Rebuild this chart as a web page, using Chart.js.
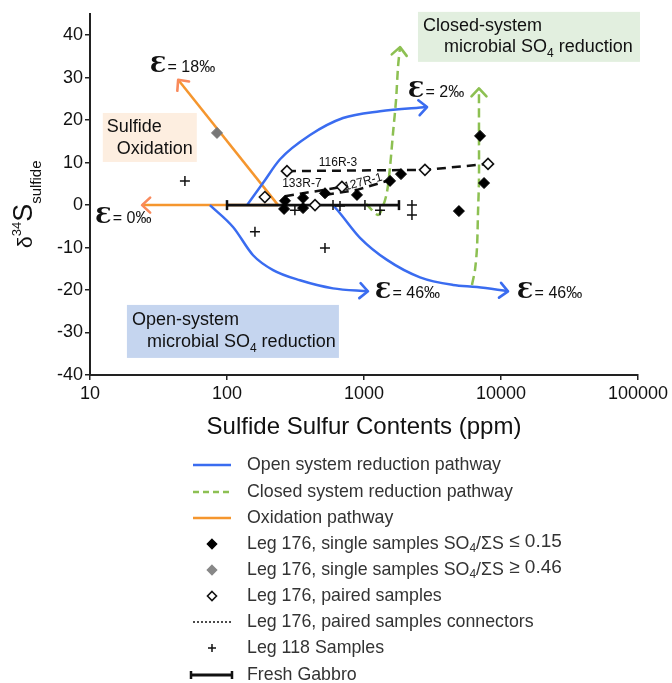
<!DOCTYPE html>
<html><head><meta charset="utf-8">
<script src="https://cdn.jsdelivr.net/npm/chart.js@4.4.0/dist/chart.umd.min.js"></script>
<style>html,body{margin:0;padding:0;background:#fff;}#wrap{width:672px;height:683px;position:relative;}</style>
</head><body><div id="wrap"><canvas id="c" width="672" height="683"></canvas></div>
<script>
// ---------------- data ----------------
const xTickValues = [10, 100, 1000, 10000, 100000];
const yTickValues = [-40, -30, -20, -10, 0, 10, 20, 30, 40];

const openUpperX = [140, 183, 244, 404, 703, 1309, 2884];
const openUpperY = [0, 5.2, 10.8, 16.5, 20.5, 22.1, 23.1];
const openLowerLeftX = [75, 111, 155, 217, 341, 594, 1069];
const openLowerLeftY = [0, -5.2, -11.8, -15.3, -17.7, -19.6, -20.3];
const openLowerRightX = [594, 668, 935, 1472, 2564, 4467, 6683, 11250];
const openLowerRightY = [0, -1.9, -7.7, -12.9, -17.0, -18.8, -19.3, -20.3];

const closedLeftX = [1035, 1265, 1377, 1472, 1549, 1629, 1713, 1771, 1832];
const closedLeftY = [0.3, -2.3, -0.2, 3.1, 9.0, 17.0, 24.7, 32.5, 37.2];
const closedRightX = [6138, 6457, 6683, 6792, 6905, 6905, 6905];
const closedRightY = [-18.8, -15.3, -9.9, -1.9, 5.9, 16.9, 27.5];

const oxidationUpX = [236, 44];
const oxidationUpY = [0, 29.5];
const oxidationFlatX = [236, 24];
const oxidationFlatY = [0, 0];

const singleLowX = [265, 261, 359, 359, 519, 889, 1549, 1862, 7030, 7520, 4930];
const singleLowY = [1.0, -0.9, 1.7, -0.7, 2.8, 2.4, 5.7, 7.3, 16.3, 5.2, -1.4];
const singleHighX = [84.5];
const singleHighY = [17.0];
const pairedX = [274, 189, 439, 690, 2786, 8040];
const pairedY = [8.0, 1.9, 0, 4.3, 8.3, 9.7];

const conn116X = [274, 2786, 8040];
const conn116Y = [8.0, 8.3, 9.7];
const conn133X = [265, 359, 519, 690];
const conn133Y = [2.1, 2.8, 3.6, 4.3];
const conn127X = [519, 889, 1549];
const conn127Y = [2.4, 3.6, 5.9];

const leg118X = [49.3, 160, 519, 313, 594, 668, 1016, 1309, 2239, 2239];
const leg118Y = [5.7, -6.3, -10.1, -1.2, 0, -0.2, 0, -1.2, 0, -2.3];

const gabbroX = [100, 1800];
const gabbroY = [0, 0];

// label anchors (data coordinates)
const epsLabels = [
  {x: 27.4, y: 31.3, t: '= 18‰'},
  {x: 2094, y: 25.4, t: '= 2‰'},
  {x: 1202, y: -21.9, t: '= 46‰'},
  {x: 13090, y: -21.9, t: '= 46‰'},
  {x: 10.9, y: -4.2, t: '= 0‰'}
];
const sampleLabels = [
  {x: 646, y: 10.1, t: '116R-3', rot: 0},
  {x: 352, y: 5.0, t: '133R-7', rot: 0},
  {x: 984, y: 5.4, t: '127R-1', rot: -15}
];

// ---------------- styles ----------------
const FONT = "'Liberation Sans', Arial, Helvetica, sans-serif";
const BLUE = '#3a6cf0', GREEN = '#8dc052', ORANGE = '#f5962e', SALMON = '#f98a5c';
const pts = (xs, ys) => xs.map((x, i) => ({x: x, y: ys[i]}));

function lineDs(label, xs, ys, color, opts) {
  return Object.assign({
    label: label, data: pts(xs, ys), showLine: true, borderColor: color, backgroundColor: color,
    borderWidth: 2.5, pointRadius: 0, pointHoverRadius: 0, tension: 0.3, fill: false
  }, opts || {});
}

const datasets = [
  {label: 'Leg 176, paired samples', data: pts(pairedX, pairedY), pointStyle: 'rectRot', pointRadius: 5.5,
   backgroundColor: '#fff', borderColor: '#111', borderWidth: 1.6, order: 0},
  {label: 'single high', data: pts(singleHighX, singleHighY), pointStyle: 'rectRot', pointRadius: 5.5,
   backgroundColor: '#777', borderColor: '#777', borderWidth: 1, order: 1},
  {label: 'single low', data: pts(singleLowX, singleLowY), pointStyle: 'rectRot', pointRadius: 5.5,
   backgroundColor: '#000', borderColor: '#000', borderWidth: 1, order: 1},
  {label: 'Leg 118', data: pts(leg118X, leg118Y), pointStyle: 'cross', pointRadius: 5,
   backgroundColor: '#111', borderColor: '#111', borderWidth: 1.5, order: 2},
  lineDs('conn116', conn116X, conn116Y, '#111', {borderDash: [9, 6], tension: 0, order: 3}),
  lineDs('conn133', conn133X, conn133Y, '#111', {borderDash: [9, 6], tension: 0, order: 3}),
  lineDs('conn127', conn127X, conn127Y, '#111', {borderDash: [9, 6], tension: 0, order: 3}),
  lineDs('gabbro', gabbroX, gabbroY, '#111', {tension: 0, borderWidth: 2.8, pointStyle: 'line', pointRotation: 90,
   pointRadius: 5, pointBorderWidth: 2.5, pointBorderColor: '#111', order: 4}),
  lineDs('closedL', closedLeftX, closedLeftY, GREEN, {borderDash: [9, 5], arrow: GREEN, order: 5}),
  lineDs('closedR', closedRightX, closedRightY, GREEN, {borderDash: [9, 5], arrow: GREEN, order: 5}),
  lineDs('openU', openUpperX, openUpperY, BLUE, {arrow: BLUE, cubicInterpolationMode: 'monotone', order: 6}),
  lineDs('openLL', openLowerLeftX, openLowerLeftY, BLUE, {arrow: BLUE, cubicInterpolationMode: 'monotone', order: 6}),
  lineDs('openLR', openLowerRightX, openLowerRightY, BLUE, {arrow: BLUE, cubicInterpolationMode: 'monotone', order: 6}),
  lineDs('oxUp', oxidationUpX, oxidationUpY, ORANGE, {tension: 0, arrow: SALMON, order: 7}),
  lineDs('oxFlat', oxidationFlatX, oxidationFlatY, ORANGE, {tension: 0, arrow: SALMON, order: 7})
];

// ---------------- helpers ----------------
function chevron(ctx, tx, ty, fx, fy, color) {
  const ang = Math.atan2(ty - fy, tx - fx), len = 11, ha = 0.75;
  ctx.save();
  ctx.strokeStyle = color; ctx.lineWidth = 2.6; ctx.setLineDash([]); ctx.lineCap = 'round'; ctx.lineJoin = 'round';
  ctx.beginPath();
  ctx.moveTo(tx - len * Math.cos(ang - ha), ty - len * Math.sin(ang - ha));
  ctx.lineTo(tx, ty);
  ctx.lineTo(tx - len * Math.cos(ang + ha), ty - len * Math.sin(ang + ha));
  ctx.stroke();
  ctx.restore();
}
function rich(ctx, x, y, segs) {
  let cx = x;
  segs.forEach(s => {
    ctx.font = s.f;
    ctx.fillText(s.t, cx, y + (s.dy || 0));
    cx += ctx.measureText(s.t).width;
  });
}

const arrowPlugin = {
  id: 'arrows',
  afterDatasetsDraw(chart) {
    const ctx = chart.ctx;
    chart.data.datasets.forEach((ds, i) => {
      if (!ds.arrow) return;
      const pts = chart.getDatasetMeta(i).data;
      const a = pts[pts.length - 2], b = pts[pts.length - 1];
      chevron(ctx, b.x, b.y, a.x, a.y, ds.arrow);
    });
  }
};

const annotationPlugin = {
  id: 'annot',
  afterDraw(chart) {
    const ctx = chart.ctx, xs = chart.scales.x, ys = chart.scales.y, ca = chart.chartArea;
    const X = v => xs.getPixelForValue(v), Y = v => ys.getPixelForValue(v);
    ctx.save();
    ctx.textBaseline = 'alphabetic';
    const f18 = '18px ' + FONT, f12 = '12px ' + FONT;
    function box(vx, vy, w, h, col, lines) {
      const px = X(vx), py = Y(vy);
      ctx.fillStyle = col; ctx.fillRect(px, py, w, h);
      ctx.fillStyle = '#111';
      lines.forEach(l => rich(ctx, px + l.dx, py + l.dy, l.segs));
    }
    box(12.4, 21.7, 94, 49, '#fdeee0', [
      {dx: 4, dy: 19, segs: [{t: 'Sulfide', f: f18}]},
      {dx: 14, dy: 41, segs: [{t: 'Oxidation', f: f18}]}
    ]);
    box(2477, 45.5, 222, 50, '#e2efdf', [
      {dx: 5, dy: 19, segs: [{t: 'Closed-system', f: f18}]},
      {dx: 26, dy: 40, segs: [{t: 'microbial SO', f: f18}, {t: '4', f: f12, dy: 5}, {t: ' reduction', f: f18}]}
    ]);
    box(18.6, -23.5, 212, 53, '#c5d5ef', [
      {dx: 5, dy: 20, segs: [{t: 'Open-system', f: f18}]},
      {dx: 20, dy: 42, segs: [{t: 'microbial SO', f: f18}, {t: '4', f: f12, dy: 5}, {t: ' reduction', f: f18}]}
    ]);
    // epsilon labels
    ctx.fillStyle = '#111';
    epsLabels.forEach(l => {
      const px = X(l.x), py = Y(l.y);
      ctx.font = "bold 23px 'DejaVu Serif', 'Liberation Serif', serif";
      ctx.fillText('Ɛ', px, py);
      const w = ctx.measureText('Ɛ').width;
      ctx.font = '16px ' + FONT;
      ctx.fillText(l.t, px + w + 1, py);
    });
    // sample labels
    ctx.font = '12px ' + FONT; ctx.textAlign = 'center'; ctx.textBaseline = 'middle';
    sampleLabels.forEach(l => {
      ctx.save(); ctx.translate(X(l.x), Y(l.y)); ctx.rotate(l.rot * Math.PI / 180);
      ctx.fillText(l.t, 0, 0); ctx.restore();
    });
    // axis titles
    ctx.textAlign = 'center'; ctx.textBaseline = 'alphabetic';
    ctx.font = '24px ' + FONT; ctx.fillStyle = '#111';
    ctx.fillText('Sulfide Sulfur Contents (ppm)', (ca.left + ca.right) / 2, 434);
    ctx.textAlign = 'left';
    ctx.save(); ctx.translate(32, 248); ctx.rotate(-Math.PI / 2);
    rich(ctx, 0, 0, [
      {t: 'δ', f: '21px ' + FONT}, {t: '34', f: '13px ' + FONT, dy: -11},
      {t: 'S', f: '27px ' + FONT}, {t: 'sulfide', f: '15px ' + FONT, dy: 9}
    ]);
    ctx.restore();
    // legend
    const rows = [465, 492, 518, 544, 570, 596, 622, 648, 675];
    const tx = 247, sx0 = 193, sx1 = 231, cx = 212;
    const f16 = '17.8px ' + FONT, f11 = '12px ' + FONT, f17 = '19px ' + FONT;
    ctx.textBaseline = 'middle';
    function seg(y, color, dash, w) {
      ctx.save(); ctx.strokeStyle = color; ctx.lineWidth = w; ctx.setLineDash(dash);
      ctx.beginPath(); ctx.moveTo(sx0, y); ctx.lineTo(sx1, y); ctx.stroke(); ctx.restore();
    }
    function diamond(y, fill, stroke) {
      ctx.save(); ctx.beginPath();
      ctx.moveTo(cx, y - 4.5); ctx.lineTo(cx + 4.5, y); ctx.lineTo(cx, y + 4.5); ctx.lineTo(cx - 4.5, y); ctx.closePath();
      ctx.fillStyle = fill; ctx.fill(); ctx.strokeStyle = stroke; ctx.lineWidth = 1.6; ctx.stroke(); ctx.restore();
    }
    seg(rows[0], BLUE, [], 2.5);
    seg(rows[1], GREEN, [6, 4], 2.5);
    seg(rows[2], ORANGE, [], 2.5);
    diamond(rows[3], '#000', '#000');
    diamond(rows[4], '#888', '#888');
    diamond(rows[5], '#fff', '#111');
    seg(rows[6], '#111', [2, 2], 1.6);
    ctx.save(); ctx.strokeStyle = '#111'; ctx.lineWidth = 1.5; ctx.beginPath();
    ctx.moveTo(cx - 4, rows[7]); ctx.lineTo(cx + 4, rows[7]); ctx.moveTo(cx, rows[7] - 4); ctx.lineTo(cx, rows[7] + 4); ctx.stroke();
    ctx.lineWidth = 3; ctx.beginPath(); ctx.moveTo(191, rows[8]); ctx.lineTo(232, rows[8]); ctx.stroke();
    ctx.lineWidth = 2.5; ctx.beginPath(); ctx.moveTo(191, rows[8] - 4); ctx.lineTo(191, rows[8] + 4);
    ctx.moveTo(232, rows[8] - 4); ctx.lineTo(232, rows[8] + 4); ctx.stroke(); ctx.restore();
    ctx.fillStyle = '#333';
    const texts = [
      [{t: 'Open system reduction pathway', f: f16}],
      [{t: 'Closed system reduction pathway', f: f16}],
      [{t: 'Oxidation pathway', f: f16}],
      [{t: 'Leg 176, single samples SO', f: f16}, {t: '4', f: f11, dy: 5}, {t: '/ΣS', f: f16}, {t: ' ≤ 0.15', f: f17, dy: -2}],
      [{t: 'Leg 176, single samples SO', f: f16}, {t: '4', f: f11, dy: 5}, {t: '/ΣS', f: f16}, {t: ' ≥ 0.46', f: f17, dy: -2}],
      [{t: 'Leg 176, paired samples', f: f16}],
      [{t: 'Leg 176, paired samples connectors', f: f16}],
      [{t: 'Leg 118 Samples', f: f16}],
      [{t: 'Fresh Gabbro', f: f16}]
    ];
    texts.forEach((s, i) => rich(ctx, tx, rows[i], s));
    ctx.restore();
  }
};

new Chart(document.getElementById('c'), {
  type: 'scatter',
  data: {datasets: datasets},
  options: {
    responsive: false, animation: false,
    layout: {padding: {left: 0, right: 34, top: 14, bottom: 0}},
    plugins: {legend: {display: false}, tooltip: {enabled: false}},
    scales: {
      x: {
        type: 'logarithmic', min: 10, max: 100000, position: 'bottom',
        afterBuildTicks: s => { s.ticks = xTickValues.map(v => ({value: v})); },
        afterFit: s => { s.height = 308; },
        ticks: {callback: v => String(v), font: {size: 18, family: FONT}, color: '#111', padding: 3, maxRotation: 0, autoSkip: false},
        grid: {drawOnChartArea: false, drawTicks: true, tickLength: 5, color: '#222', lineWidth: 1.5},
        border: {display: true, color: '#222', width: 2}
      },
      y: {
        type: 'linear', min: -40, max: 45,
        afterBuildTicks: s => { s.ticks = yTickValues.map(v => ({value: v})); },
        afterFit: s => { s.width = 90; },
        ticks: {font: {size: 18, family: FONT}, color: '#111', padding: 2},
        grid: {drawOnChartArea: false, drawTicks: true, tickLength: 5, color: '#222', lineWidth: 1.5},
        border: {display: true, color: '#222', width: 2}
      }
    }
  },
  plugins: [arrowPlugin, annotationPlugin]
});
</script></body></html>
